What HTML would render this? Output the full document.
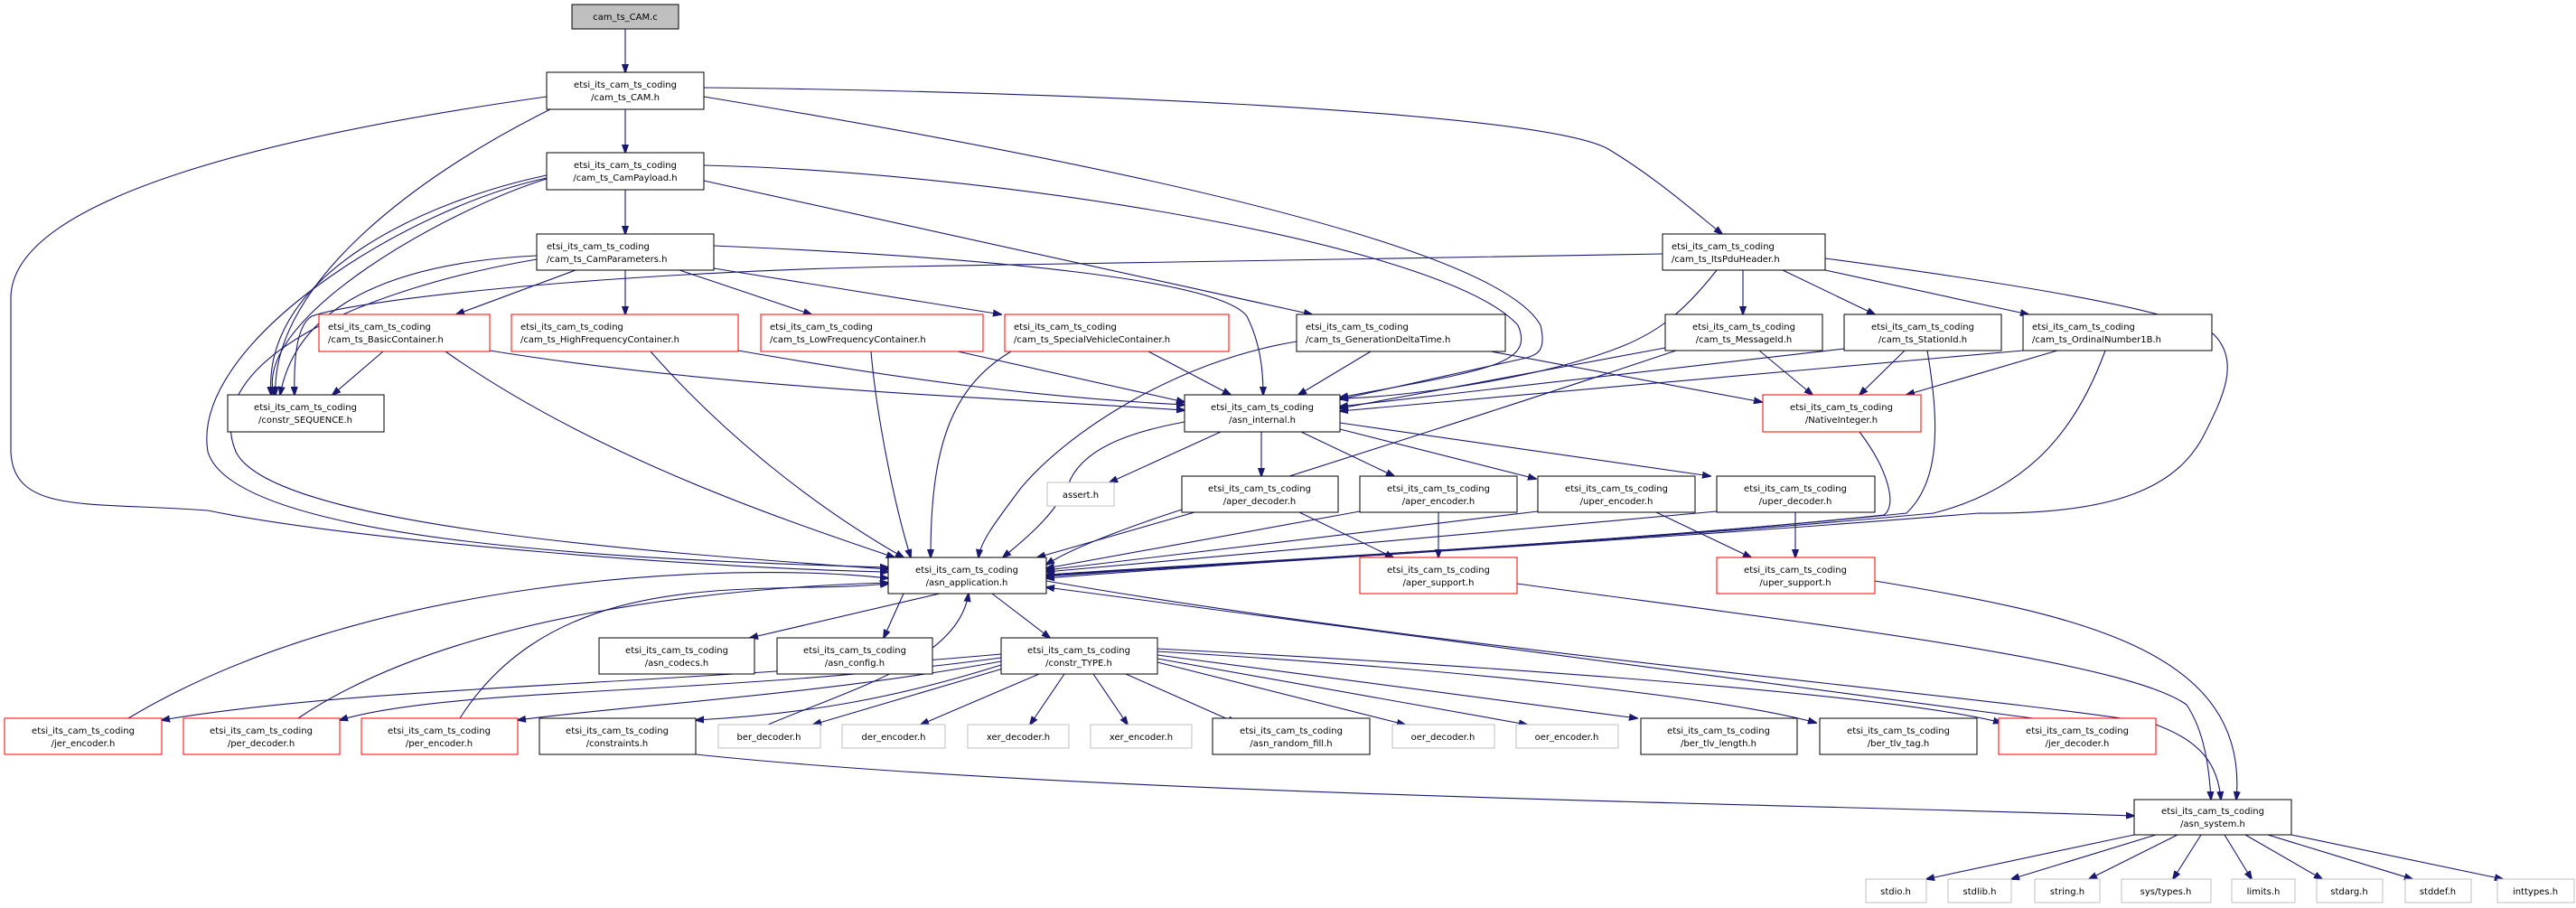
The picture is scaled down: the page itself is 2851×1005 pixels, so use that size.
<!DOCTYPE html>
<html><head><meta charset="utf-8"><style>
html,body{margin:0;padding:0;background:#fff;}
svg{display:block;}
text{font-family:"DejaVu Sans","Liberation Sans",sans-serif;font-size:10px;fill:#000;}
.e{fill:none;stroke:#191970;stroke-width:1.1;}
.n{fill:#fff;stroke:#000;stroke-width:1;}
.r{fill:#fff;stroke:#ff0000;stroke-width:1;}
.g{fill:#fff;stroke:#bfbfbf;stroke-width:1;}
</style></head><body>
<svg width="2851" height="1005" viewBox="0 0 2851 1005" xmlns="http://www.w3.org/2000/svg">
<defs><marker id="a" markerWidth="10" markerHeight="8" refX="9" refY="4" orient="auto" markerUnits="userSpaceOnUse"><path d="M0,0.5 L10,4 L0,7.5 z" fill="#191970" stroke="#191970"/></marker></defs>
<g marker-end="url(#a)">
<path class="e" d="M692,32 L692,80"/>
<path class="e" d="M692,121 L692,169"/>
<path class="e" d="M692,210 L692,259"/>
<path class="e" d="M605,107 C300,150 12,220 12,330 L12,500 C15,570 100,555 230,565 C400,600 800,630 983,633"/>
<path class="e" d="M609,121 C450,200 300,320 305,437"/>
<path class="e" d="M779,97 C1100,100 1700,120 1780,165 C1830,195 1870,230 1906,259"/>
<path class="e" d="M779,107 C1100,160 1650,260 1705,360 C1712,390 1700,392 1690,396 L1483,442"/>
<path class="e" d="M779,183 C1100,190 1600,270 1680,360 C1700,405 1640,410 1483,440"/>
<path class="e" d="M779,200 L1452,348"/>
<path class="e" d="M605,194 C480,220 290,300 300,437"/>
<path class="e" d="M605,198 C500,230 280,350 303,437"/>
<path class="e" d="M605,197 C450,230 210,380 230,500 C260,600 700,620 983,628"/>
<path class="e" d="M594,283 C450,290 330,330 310,437"/>
<path class="e" d="M594,287 C400,320 220,400 261,500 C300,580 700,610 983,630"/>
<path class="e" d="M637,299 L505,348"/>
<path class="e" d="M692,299 L692,348"/>
<path class="e" d="M752,299 L898,348"/>
<path class="e" d="M790,297 L1108,348"/>
<path class="e" d="M790,272 C1100,285 1350,310 1380,350 C1395,380 1398,410 1398,437"/>
<path class="e" d="M1840,281 L1000,295 C700,300 400,330 345,350 C328,360 325,400 326,437"/>
<path class="e" d="M424,389 L368,437"/>
<path class="e" d="M493,389 C650,500 850,570 990,617"/>
<path class="e" d="M542,388 C800,430 1100,440 1311,454"/>
<path class="e" d="M720,389 C800,480 900,560 1000,617"/>
<path class="e" d="M817,388 C1000,420 1150,440 1311,448"/>
<path class="e" d="M964,389 C970,460 990,560 1008,617"/>
<path class="e" d="M1060,389 L1311,445"/>
<path class="e" d="M1119,389 C1050,430 1030,500 1030,617"/>
<path class="e" d="M1271,389 L1362,437"/>
<path class="e" d="M1435,378 C1300,400 1180,480 1130,540 C1100,580 1085,600 1083,617"/>
<path class="e" d="M1517,389 L1437,437"/>
<path class="e" d="M1650,389 L1950,445"/>
<path class="e" d="M1929,299 L1929,348"/>
<path class="e" d="M1973,299 L2075,348"/>
<path class="e" d="M2020,299 L2245,348"/>
<path class="e" d="M1900,299 C1860,350 1830,370 1791,385 C1700,420 1550,440 1483,441"/>
<path class="e" d="M2020,286 C2200,310 2400,340 2450,370 C2480,400 2460,440 2440,480 C2410,540 2340,570 2190,568 C1800,600 1400,620 1158,640"/>
<path class="e" d="M1843,385 L1483,452"/>
<path class="e" d="M1855,388 C1700,440 1450,520 1370,545 C1250,580 1180,610 1158,625"/>
<path class="e" d="M1947,388 L2006,437"/>
<path class="e" d="M2041,386 L1483,450"/>
<path class="e" d="M2108,388 L2058,437"/>
<path class="e" d="M2133,388 C2145,460 2150,530 2110,568 C1800,600 1400,620 1158,637"/>
<path class="e" d="M2239,388 L1483,455"/>
<path class="e" d="M2277,388 L2110,437"/>
<path class="e" d="M2330,388 C2300,470 2250,540 2140,568 C1800,600 1400,620 1158,638"/>
<path class="e" d="M2058,478 C2090,520 2100,560 2085,570 C1800,600 1400,620 1158,636"/>
<path class="e" d="M1351,478 L1228,534"/>
<path class="e" d="M1311,467 C1240,480 1200,500 1185,530 C1170,570 1130,600 1110,617"/>
<path class="e" d="M1396,478 L1396,527"/>
<path class="e" d="M1440,478 L1543,527"/>
<path class="e" d="M1483,475 L1700,530"/>
<path class="e" d="M1483,468 L1893,527"/>
<path class="e" d="M1322,567 L1148,617"/>
<path class="e" d="M1438,567 L1542,617"/>
<path class="e" d="M1505,566 L1158,629"/>
<path class="e" d="M1592,567 L1592,617"/>
<path class="e" d="M1702,566 L1158,631"/>
<path class="e" d="M1833,567 L1938,617"/>
<path class="e" d="M1900,566 L1158,633"/>
<path class="e" d="M1987,567 L1987,617"/>
<path class="e" d="M1679,646 C2000,690 2350,730 2420,780 C2440,810 2445,850 2447,885"/>
<path class="e" d="M2075,643 C2300,680 2490,720 2475,885"/>
<path class="e" d="M1158,643 C1600,720 2200,770 2380,800 C2440,820 2455,850 2458,885"/>
<path class="e" d="M1040,657 L830,706"/>
<path class="e" d="M1000,657 L978,706"/>
<path class="e" d="M1098,657 L1162,706"/>
<path class="e" d="M142,795 C400,640 800,620 983,640"/>
<path class="e" d="M330,795 C500,680 800,650 983,645"/>
<path class="e" d="M509,795 C620,620 850,660 983,646"/>
<path class="e" d="M850,802 C950,760 1060,730 1072,657"/>
<path class="e" d="M2250,795 L1158,650"/>
<path class="e" d="M1108,724 C700,760 400,760 179,797"/>
<path class="e" d="M1108,728 C800,770 500,760 376,797"/>
<path class="e" d="M1108,732 C900,770 700,780 573,797"/>
<path class="e" d="M1108,736 C1000,770 900,790 770,797"/>
<path class="e" d="M1110,740 L900,802"/>
<path class="e" d="M1150,746 L1019,802"/>
<path class="e" d="M1178,746 L1140,802"/>
<path class="e" d="M1210,746 L1248,802"/>
<path class="e" d="M1246,746 L1368,800"/>
<path class="e" d="M1281,733 L1555,802"/>
<path class="e" d="M1281,729 L1690,802"/>
<path class="e" d="M1281,725 L1812,795"/>
<path class="e" d="M1281,721 C1600,740 1900,770 2010,800"/>
<path class="e" d="M1281,718 C1700,740 2100,770 2215,800"/>
<path class="e" d="M770,835 C1200,880 2000,890 2362,903"/>
<path class="e" d="M2362,924 L2132,973"/>
<path class="e" d="M2386,924 L2226,973"/>
<path class="e" d="M2410,924 L2312,973"/>
<path class="e" d="M2436,924 L2405,973"/>
<path class="e" d="M2462,924 L2492,973"/>
<path class="e" d="M2485,924 L2570,973"/>
<path class="e" d="M2510,924 L2670,973"/>
<path class="e" d="M2536,924 L2770,973"/>
</g>
<g>
<rect x="633" y="5" width="118" height="27" fill="#bfbfbf" stroke="#000"/><text x="692" y="22" text-anchor="middle">cam_ts_CAM.c</text>
<rect class="n" x="605" y="80" width="174" height="41"/><text x="692" y="97" text-anchor="middle">etsi_its_cam_ts_coding</text><text x="692" y="111" text-anchor="middle">/cam_ts_CAM.h</text>
<rect class="n" x="605" y="169" width="174" height="41"/><text x="692" y="186" text-anchor="middle">etsi_its_cam_ts_coding</text><text x="692" y="200" text-anchor="middle">/cam_ts_CamPayload.h</text>
<rect class="n" x="594" y="259" width="196" height="40"/><text x="605" y="276">etsi_its_cam_ts_coding</text><text x="605" y="290">/cam_ts_CamParameters.h</text>
<rect class="r" x="353" y="348" width="189" height="41"/><text x="363" y="365">etsi_its_cam_ts_coding</text><text x="363" y="379">/cam_ts_BasicContainer.h</text>
<rect class="r" x="566" y="348" width="251" height="41"/><text x="576" y="365">etsi_its_cam_ts_coding</text><text x="576" y="379">/cam_ts_HighFrequencyContainer.h</text>
<rect class="r" x="842" y="348" width="246" height="41"/><text x="852" y="365">etsi_its_cam_ts_coding</text><text x="852" y="379">/cam_ts_LowFrequencyContainer.h</text>
<rect class="r" x="1112" y="348" width="248" height="41"/><text x="1122" y="365">etsi_its_cam_ts_coding</text><text x="1122" y="379">/cam_ts_SpecialVehicleContainer.h</text>
<rect class="n" x="1435" y="348" width="231" height="41"/><text x="1445" y="365">etsi_its_cam_ts_coding</text><text x="1445" y="379">/cam_ts_GenerationDeltaTime.h</text>
<rect class="n" x="1840" y="259" width="180" height="40"/><text x="1850" y="276">etsi_its_cam_ts_coding</text><text x="1850" y="290">/cam_ts_ItsPduHeader.h</text>
<rect class="n" x="1843" y="348" width="174" height="40"/><text x="1930" y="365" text-anchor="middle">etsi_its_cam_ts_coding</text><text x="1930" y="379" text-anchor="middle">/cam_ts_MessageId.h</text>
<rect class="n" x="2041" y="348" width="174" height="40"/><text x="2128" y="365" text-anchor="middle">etsi_its_cam_ts_coding</text><text x="2128" y="379" text-anchor="middle">/cam_ts_StationId.h</text>
<rect class="n" x="2239" y="348" width="209" height="40"/><text x="2249" y="365">etsi_its_cam_ts_coding</text><text x="2249" y="379">/cam_ts_OrdinalNumber1B.h</text>
<rect class="n" x="252" y="437" width="173" height="41"/><text x="338" y="454" text-anchor="middle">etsi_its_cam_ts_coding</text><text x="338" y="468" text-anchor="middle">/constr_SEQUENCE.h</text>
<rect class="n" x="1311" y="437" width="172" height="41"/><text x="1397" y="454" text-anchor="middle">etsi_its_cam_ts_coding</text><text x="1397" y="468" text-anchor="middle">/asn_internal.h</text>
<rect class="r" x="1951" y="437" width="175" height="41"/><text x="2038" y="454" text-anchor="middle">etsi_its_cam_ts_coding</text><text x="2038" y="468" text-anchor="middle">/NativeInteger.h</text>
<rect class="g" x="1159" y="534" width="74" height="26"/><text x="1196" y="551" text-anchor="middle">assert.h</text>
<rect class="n" x="1308" y="527" width="173" height="40"/><text x="1394" y="544" text-anchor="middle">etsi_its_cam_ts_coding</text><text x="1394" y="558" text-anchor="middle">/aper_decoder.h</text>
<rect class="n" x="1505" y="527" width="174" height="40"/><text x="1592" y="544" text-anchor="middle">etsi_its_cam_ts_coding</text><text x="1592" y="558" text-anchor="middle">/aper_encoder.h</text>
<rect class="n" x="1702" y="527" width="174" height="40"/><text x="1789" y="544" text-anchor="middle">etsi_its_cam_ts_coding</text><text x="1789" y="558" text-anchor="middle">/uper_encoder.h</text>
<rect class="n" x="1900" y="527" width="175" height="40"/><text x="1987" y="544" text-anchor="middle">etsi_its_cam_ts_coding</text><text x="1987" y="558" text-anchor="middle">/uper_decoder.h</text>
<rect class="n" x="983" y="617" width="175" height="40"/><text x="1070" y="634" text-anchor="middle">etsi_its_cam_ts_coding</text><text x="1070" y="648" text-anchor="middle">/asn_application.h</text>
<rect class="r" x="1505" y="617" width="174" height="40"/><text x="1592" y="634" text-anchor="middle">etsi_its_cam_ts_coding</text><text x="1592" y="648" text-anchor="middle">/aper_support.h</text>
<rect class="r" x="1900" y="617" width="175" height="40"/><text x="1987" y="634" text-anchor="middle">etsi_its_cam_ts_coding</text><text x="1987" y="648" text-anchor="middle">/uper_support.h</text>
<rect class="n" x="663" y="706" width="172" height="40"/><text x="749" y="723" text-anchor="middle">etsi_its_cam_ts_coding</text><text x="749" y="737" text-anchor="middle">/asn_codecs.h</text>
<rect class="n" x="860" y="706" width="172" height="40"/><text x="946" y="723" text-anchor="middle">etsi_its_cam_ts_coding</text><text x="946" y="737" text-anchor="middle">/asn_config.h</text>
<rect class="n" x="1108" y="706" width="173" height="40"/><text x="1194" y="723" text-anchor="middle">etsi_its_cam_ts_coding</text><text x="1194" y="737" text-anchor="middle">/constr_TYPE.h</text>
<rect class="r" x="5" y="795" width="174" height="40"/><text x="92" y="812" text-anchor="middle">etsi_its_cam_ts_coding</text><text x="92" y="826" text-anchor="middle">/jer_encoder.h</text>
<rect class="r" x="203" y="795" width="173" height="40"/><text x="289" y="812" text-anchor="middle">etsi_its_cam_ts_coding</text><text x="289" y="826" text-anchor="middle">/per_decoder.h</text>
<rect class="r" x="400" y="795" width="173" height="40"/><text x="486" y="812" text-anchor="middle">etsi_its_cam_ts_coding</text><text x="486" y="826" text-anchor="middle">/per_encoder.h</text>
<rect class="n" x="597" y="795" width="173" height="40"/><text x="683" y="812" text-anchor="middle">etsi_its_cam_ts_coding</text><text x="683" y="826" text-anchor="middle">/constraints.h</text>
<rect class="g" x="795" y="802" width="113" height="26"/><text x="851" y="819" text-anchor="middle">ber_decoder.h</text>
<rect class="g" x="932" y="802" width="114" height="26"/><text x="989" y="819" text-anchor="middle">der_encoder.h</text>
<rect class="g" x="1071" y="802" width="112" height="26"/><text x="1127" y="819" text-anchor="middle">xer_decoder.h</text>
<rect class="g" x="1207" y="802" width="112" height="26"/><text x="1263" y="819" text-anchor="middle">xer_encoder.h</text>
<rect class="n" x="1342" y="795" width="174" height="40"/><text x="1429" y="812" text-anchor="middle">etsi_its_cam_ts_coding</text><text x="1429" y="826" text-anchor="middle">/asn_random_fill.h</text>
<rect class="g" x="1541" y="802" width="113" height="26"/><text x="1597" y="819" text-anchor="middle">oer_decoder.h</text>
<rect class="g" x="1678" y="802" width="113" height="26"/><text x="1734" y="819" text-anchor="middle">oer_encoder.h</text>
<rect class="n" x="1816" y="795" width="173" height="40"/><text x="1902" y="812" text-anchor="middle">etsi_its_cam_ts_coding</text><text x="1902" y="826" text-anchor="middle">/ber_tlv_length.h</text>
<rect class="n" x="2014" y="795" width="174" height="40"/><text x="2101" y="812" text-anchor="middle">etsi_its_cam_ts_coding</text><text x="2101" y="826" text-anchor="middle">/ber_tlv_tag.h</text>
<rect class="r" x="2212" y="795" width="174" height="40"/><text x="2299" y="812" text-anchor="middle">etsi_its_cam_ts_coding</text><text x="2299" y="826" text-anchor="middle">/jer_decoder.h</text>
<rect class="n" x="2362" y="885" width="174" height="39"/><text x="2449" y="901" text-anchor="middle">etsi_its_cam_ts_coding</text><text x="2449" y="915" text-anchor="middle">/asn_system.h</text>
<rect class="g" x="2065" y="973" width="67" height="26"/><text x="2098" y="990" text-anchor="middle">stdio.h</text>
<rect class="g" x="2156" y="973" width="70" height="26"/><text x="2191" y="990" text-anchor="middle">stdlib.h</text>
<rect class="g" x="2252" y="973" width="72" height="26"/><text x="2288" y="990" text-anchor="middle">string.h</text>
<rect class="g" x="2348" y="973" width="99" height="26"/><text x="2397" y="990" text-anchor="middle">sys/types.h</text>
<rect class="g" x="2470" y="973" width="70" height="26"/><text x="2505" y="990" text-anchor="middle">limits.h</text>
<rect class="g" x="2564" y="973" width="73" height="26"/><text x="2600" y="990" text-anchor="middle">stdarg.h</text>
<rect class="g" x="2662" y="973" width="73" height="26"/><text x="2698" y="990" text-anchor="middle">stddef.h</text>
<rect class="g" x="2764" y="973" width="85" height="26"/><text x="2806" y="990" text-anchor="middle">inttypes.h</text>
</g>
</svg>
</body></html>
